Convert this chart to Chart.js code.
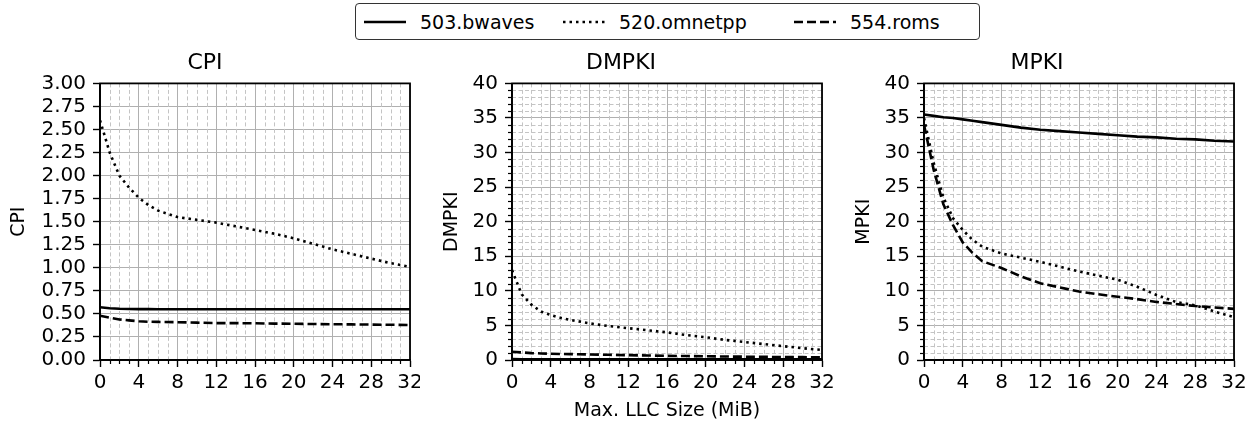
<!DOCTYPE html>
<html>
<head>
<meta charset="utf-8">
<script src="https://cdn.jsdelivr.net/npm/chart.js@4.4.1/dist/chart.umd.min.js"></script>
<style>
  body { margin: 0; background: #fff; width: 1255px; height: 424px; position: relative; overflow: hidden;
         font-family: 'DejaVu Sans', sans-serif; color: #000; }
  canvas { position: absolute; top: 45px; }
  #legend { position: absolute; left: 355px; top: 3px; width: 623px; height: 35px;
            border: 1.4px solid #333; border-radius: 4px; }
  #legend .item { position: absolute; top: 0; height: 35px; display: flex; align-items: center; font-size: 19px; }
  #legend svg { margin-right: 14px; }
</style>
</head>
<body>
<div id="legend"></div>
<canvas id="cpi" width="420" height="379" style="left:0px"></canvas>
<canvas id="dmpki" width="420" height="379" style="left:420px"></canvas>
<canvas id="mpki" width="415" height="379" style="left:840px"></canvas>
<script>
// ---- data ----
const LLC_SIZES = [0, 1, 2, 3, 4, 5, 6, 8, 10, 12, 14, 16, 18, 20, 22, 24, 26, 28, 30, 32];
const BENCHES = ['503.bwaves', '520.omnetpp', '554.roms'];

const CPI_BWAVES  = [0.573, 0.562, 0.556, 0.553, 0.552, 0.552, 0.551, 0.551, 0.551, 0.551, 0.551, 0.551, 0.551, 0.551, 0.551, 0.551, 0.551, 0.551, 0.551, 0.551];
const CPI_OMNETPP = [2.60, 2.25, 2.00, 1.87, 1.76, 1.68, 1.62, 1.55, 1.52, 1.49, 1.45, 1.41, 1.37, 1.32, 1.26, 1.20, 1.15, 1.10, 1.05, 1.01];
const CPI_ROMS    = [0.48, 0.46, 0.44, 0.43, 0.42, 0.415, 0.413, 0.41, 0.405, 0.40, 0.40, 0.398, 0.395, 0.393, 0.39, 0.388, 0.386, 0.384, 0.382, 0.38];

const DMPKI_BWAVES  = [0.12, 0.11, 0.1, 0.1, 0.1, 0.1, 0.1, 0.1, 0.1, 0.1, 0.1, 0.1, 0.1, 0.1, 0.1, 0.1, 0.1, 0.1, 0.1, 0.1];
const DMPKI_OMNETPP = [13.0, 9.5, 8.0, 7.0, 6.5, 6.1, 5.8, 5.3, 4.9, 4.6, 4.3, 4.0, 3.6, 3.3, 2.9, 2.6, 2.3, 2.0, 1.7, 1.45];
const DMPKI_ROMS    = [1.2, 1.1, 1.0, 0.95, 0.9, 0.87, 0.85, 0.8, 0.75, 0.7, 0.65, 0.6, 0.57, 0.54, 0.5, 0.48, 0.45, 0.43, 0.41, 0.4];

const MPKI_BWAVES  = [35.5, 35.3, 35.1, 35.0, 34.8, 34.6, 34.4, 34.0, 33.6, 33.3, 33.1, 32.9, 32.7, 32.5, 32.3, 32.2, 32.0, 31.9, 31.7, 31.6];
const MPKI_OMNETPP = [35.0, 28.5, 23.5, 20.5, 18.8, 17.4, 16.4, 15.4, 14.8, 14.2, 13.5, 12.8, 12.2, 11.6, 10.6, 9.4, 8.4, 7.9, 7.0, 6.2];
const MPKI_ROMS    = [34.0, 27.5, 22.5, 19.5, 17.0, 15.5, 14.3, 13.3, 12.1, 11.1, 10.5, 9.9, 9.5, 9.15, 8.8, 8.4, 8.1, 7.8, 7.6, 7.4];

const X_MAX = 32, X_STEP = 4;
const X_LABEL = 'Max. LLC Size (MiB)';

// line look per benchmark: solid, dotted, dashed
const DASHES = [[], [2.5, 4], [9, 4]];
const FONT = "'DejaVu Sans', sans-serif";

// frame on all four sides + minor grid lines and minor ticks
const frameAndMinor = {
    id: 'frameAndMinor',
    beforeDatasetsDraw(chart, args, opts) {
        const { ctx, chartArea: a, scales: { x, y } } = chart;
        ctx.save();
        ctx.strokeStyle = '#c4c4c4';
        ctx.lineWidth = 1;
        ctx.setLineDash([4, 2.5]);
        for (let v = 0; v <= X_MAX; v++) {
            if (v % X_STEP === 0) continue;
            const px = Math.round(x.getPixelForValue(v)) + 0.5;
            ctx.beginPath(); ctx.moveTo(px, a.top); ctx.lineTo(px, a.bottom); ctx.stroke();
        }
        if (opts.minorY) {
            for (let v = 0; v <= opts.yMax; v++) {
                if (v % opts.yStep === 0) continue;
                const py = Math.round(y.getPixelForValue(v)) + 0.5;
                ctx.beginPath(); ctx.moveTo(a.left, py); ctx.lineTo(a.right, py); ctx.stroke();
            }
        }
        ctx.restore();
    },
    afterDraw(chart, args, opts) {
        const { ctx, chartArea: a, scales: { x, y } } = chart;
        ctx.save();
        ctx.strokeStyle = '#000';
        ctx.lineWidth = 1.2;
        for (let v = 0; v <= X_MAX; v++) {
            if (v % X_STEP === 0) continue;
            const px = Math.round(x.getPixelForValue(v)) + 0.5;
            ctx.beginPath(); ctx.moveTo(px, a.bottom); ctx.lineTo(px, a.bottom + 4); ctx.stroke();
        }
        if (opts.minorY) {
            for (let v = 0; v <= opts.yMax; v++) {
                if (v % opts.yStep === 0) continue;
                const py = Math.round(y.getPixelForValue(v)) + 0.5;
                ctx.beginPath(); ctx.moveTo(a.left - 4, py); ctx.lineTo(a.left, py); ctx.stroke();
            }
        }
        ctx.lineWidth = 1.8;
        ctx.strokeRect(a.left, a.top, a.right - a.left, a.bottom - a.top);
        ctx.restore();
    }
};

function makePanel(id, cfg) {
    const datasets = cfg.series.map((vals, i) => ({
        label: BENCHES[i],
        data: LLC_SIZES.map((s, k) => ({ x: s, y: vals[k] })),
        borderColor: '#000',
        borderWidth: 2.6,
        borderDash: DASHES[i],
        borderCapStyle: 'butt',
        pointRadius: 0,
        showLine: true,
        fill: false
    }));

    return new Chart(document.getElementById(id), {
        type: 'scatter',
        data: { datasets },
        options: {
            responsive: false,
            animation: false,
            layout: { padding: { left: 0, right: cfg.padRight, top: 0, bottom: 0 } },
            plugins: {
                legend: { display: false },
                tooltip: { enabled: false },
                title: {
                    display: true, text: cfg.title, color: '#000',
                    font: { family: FONT, size: 22, weight: 'normal' },
                    padding: { top: 5, bottom: 7 }
                },
                frameAndMinor: { minorY: cfg.minorY, yMax: cfg.yMax, yStep: cfg.yStep }
            },
            scales: {
                x: {
                    type: 'linear', min: 0, max: X_MAX,
                    ticks: { stepSize: X_STEP, autoSkip: false, maxRotation: 0, color: '#000', padding: 4,
                             font: { family: FONT, size: 20 } },
                    grid: { color: '#b0b0b0', lineWidth: 1, tickColor: '#000', tickLength: 7, tickWidth: 1.4 },
                    border: { color: '#000', width: 1.8 },
                    title: {
                        display: !!cfg.xTitle, text: X_LABEL, color: '#000',
                        font: { family: FONT, size: 19 }, padding: { top: 0, bottom: 2 }
                    },
                    afterFit(scale) { scale.height = 64; scale.paddingLeft = 0; scale.paddingRight = 0; }
                },
                y: {
                    min: 0, max: cfg.yMax,
                    ticks: {
                        stepSize: cfg.yStep, autoSkip: false, color: '#000', padding: 7,
                        font: { family: FONT, size: 20 },
                        callback: cfg.yFmt
                    },
                    grid: { color: '#b0b0b0', lineWidth: 1, tickColor: '#000', tickLength: 7, tickWidth: 1.4 },
                    border: { color: '#000', width: 1.8 },
                    title: {
                        display: true, text: cfg.title, color: '#000',
                        font: { family: FONT, size: 19 }, padding: { top: cfg.yTitlePad, bottom: 0 }
                    },
                    afterFit(scale) { scale.width = cfg.yWidth; scale.paddingTop = 0; scale.paddingBottom = 0; }
                }
            }
        },
        plugins: [frameAndMinor]
    });
}

makePanel('cpi', {
    title: 'CPI', series: [CPI_BWAVES, CPI_OMNETPP, CPI_ROMS],
    yMax: 3, yStep: 0.25, yFmt: v => v.toFixed(2), minorY: false,
    yWidth: 100, yTitlePad: 8, padRight: 10, xTitle: false
});
makePanel('dmpki', {
    title: 'DMPKI', series: [DMPKI_BWAVES, DMPKI_OMNETPP, DMPKI_ROMS],
    yMax: 40, yStep: 5, yFmt: v => v, minorY: true,
    yWidth: 92, yTitlePad: 21, padRight: 18, xTitle: true
});
makePanel('mpki', {
    title: 'MPKI', series: [MPKI_BWAVES, MPKI_OMNETPP, MPKI_ROMS],
    yMax: 40, yStep: 5, yFmt: v => v, minorY: true,
    yWidth: 84, yTitlePad: 13, padRight: 21, xTitle: false
});

// shared legend on top
const legendPos = [{ line: 8, text: 65 }, { line: 207, text: 262 }, { line: 438, text: 497 }];
const legend = document.getElementById('legend');
BENCHES.forEach((name, i) => {
    const item = document.createElement('div');
    item.className = 'item';
    item.style.left = legendPos[i].line + 'px';
    item.innerHTML = '<svg width="42" height="6"><line x1="0" y1="3" x2="42" y2="3" stroke="#000" stroke-width="2.6" stroke-dasharray="' +
        (DASHES[i].length ? DASHES[i].join(',') : 'none') + '"/></svg><span>' + name + '</span>';
    legend.appendChild(item);
});
</script>
</body>
</html>
